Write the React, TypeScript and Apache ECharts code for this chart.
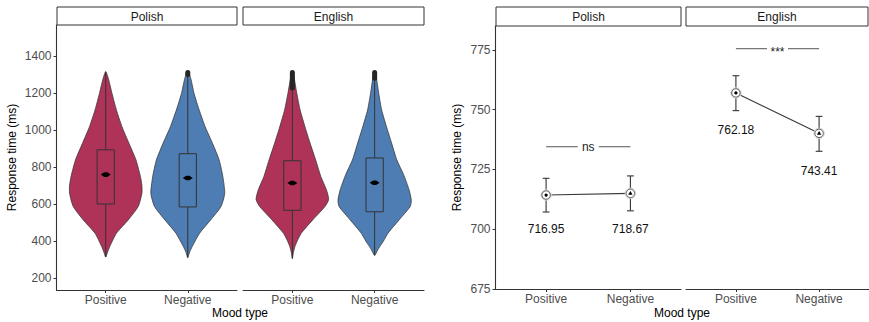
import React, { useEffect, useRef } from "react";
import * as echarts from "echarts";

const FONT = "'Liberation Sans', Arial, Helvetica, sans-serif";

const moods = ["Positive", "Negative"];
const languages = ["Polish", "English"];

// left panel ticks / ranges
const violinTicks = [200, 400, 600, 800, 1000, 1200, 1400];
const violinRange = [135, 1568];
// right panel ticks / ranges
const meanTicks = [675, 700, 725, 750, 775];
const meanRange = [675, 785];

// violin density profiles: [response time, relative half width]
const polishPositiveViolin = [[313, 0], [340, 0.05], [370, 0.11], [442, 0.29], [514, 0.61], [586, 0.88], [658, 0.98], [700, 0.98], [748, 0.94], [838, 0.82], [928, 0.63], [1018, 0.44], [1108, 0.29], [1198, 0.17], [1280, 0.07], [1316, 0]];
const polishNegativeViolin = [[310, 0], [340, 0.05], [370, 0.12], [442, 0.32], [514, 0.62], [586, 0.9], [658, 1.0], [748, 0.95], [838, 0.85], [928, 0.67], [1018, 0.47], [1108, 0.31], [1198, 0.17], [1280, 0.08], [1322, 0]];
const englishPositiveViolin = [[305, 0], [340, 0.03], [370, 0.07], [400, 0.13], [442, 0.24], [514, 0.55], [586, 0.88], [625, 0.98], [677, 0.92], [748, 0.77], [838, 0.63], [928, 0.48], [1018, 0.34], [1108, 0.21], [1198, 0.12], [1280, 0.05], [1322, 0]];
const englishNegativeViolin = [[322, 0], [350, 0.08], [370, 0.14], [400, 0.24], [442, 0.36], [514, 0.66], [586, 0.96], [620, 0.99], [677, 0.93], [760, 0.78], [838, 0.6], [928, 0.46], [1018, 0.32], [1108, 0.19], [1198, 0.11], [1280, 0.05], [1322, 0]];

const polishBoxQ1 = [600, 584];
const polishBoxQ3 = [893, 872];
const englishBoxQ1 = [566, 558];
const englishBoxQ3 = [834, 849];
const polishWhiskerMin = [313, 310];
const polishWhiskerMax = [1316, 1300];
const englishWhiskerMin = [305, 322];
const englishWhiskerMax = [1227, 1280];
const polishOutlierMax = [1316, 1322];
const englishOutlierMax = [1322, 1322];
const polishViolinMean = [759, 741];
const englishViolinMean = [714, 715];

// right panel: means with error bars
const polishMean = [714.3, 715.0];
const polishErrLow = [707.2, 707.7];
const polishErrHigh = [721.3, 722.3];
const englishMean = [757.0, 740.1];
const englishErrLow = [749.6, 732.6];
const englishErrHigh = [764.2, 747.2];
const polishLabels = ["716.95", "718.67"];
const englishLabels = ["762.18", "743.41"];
const polishLabelRT = [700, 700];
const englishLabelRT = [741.5, 724.5];
const polishSig = "ns";
const englishSig = "***";
const polishSigRT = 734.5;
const englishSigRT = 775.5;

const violinColors = ["#AF3259", "#4E7DB4"];

const violins = [
  [polishPositiveViolin, polishNegativeViolin],
  [englishPositiveViolin, englishNegativeViolin],
];
const boxQ1 = [polishBoxQ1, englishBoxQ1];
const boxQ3 = [polishBoxQ3, englishBoxQ3];
const whiskerMin = [polishWhiskerMin, englishWhiskerMin];
const whiskerMax = [polishWhiskerMax, englishWhiskerMax];
const outlierMax = [polishOutlierMax, englishOutlierMax];
const violinMean = [polishViolinMean, englishViolinMean];

const means = [polishMean, englishMean];
const errLow = [polishErrLow, englishErrLow];
const errHigh = [polishErrHigh, englishErrHigh];
const valueLabels = [polishLabels, englishLabels];
const labelRT = [polishLabelRT, englishLabelRT];
const sigText = [polishSig, englishSig];
const sigRT = [polishSigRT, englishSigRT];

const grids = [
  { left: 56.5, top: 25, width: 180.5, height: 265 },
  { left: 243, top: 25, width: 181, height: 265 },
  { left: 495.5, top: 26, width: 185.5, height: 263 },
  { left: 686, top: 26, width: 187, height: 263 },
];

const strips = [
  { x: 57, y: 7, w: 180, h: 18 },
  { x: 243, y: 7, w: 181, h: 18 },
  { x: 496, y: 7, w: 185, h: 19 },
  { x: 686, y: 7, w: 182, h: 19 },
];

function xAxisCfg(gridIndex: number) {
  return {
    type: "value",
    gridIndex,
    min: 0.4,
    max: 2.6,
    axisLine: { show: true, onZero: false, lineStyle: { color: "#333", width: 1.1 } },
    axisTick: { show: true, customValues: [1, 2], length: 3, lineStyle: { color: "#333" } },
    axisLabel: {
      show: true,
      customValues: [1, 2],
      formatter: (v: number) => moods[Math.round(v) - 1] ?? "",
      color: "#4d4d4d",
      fontSize: 12,
      fontFamily: FONT,
      margin: 4,
    },
    splitLine: { show: false },
  };
}

function yAxisCfg(gridIndex: number, show: boolean, range: number[], ticks: number[]) {
  return {
    type: "value",
    gridIndex,
    min: range[0],
    max: range[1],
    show,
    axisLine: { show: true, onZero: false, lineStyle: { color: "#333", width: 1.1 } },
    axisTick: { show: true, customValues: ticks, length: 3, lineStyle: { color: "#333" } },
    axisLabel: {
      show: true,
      customValues: ticks,
      formatter: (v: number) => String(v),
      color: "#4d4d4d",
      fontSize: 12,
      fontFamily: FONT,
      margin: 5,
    },
    splitLine: { show: false },
  };
}

function buildOption() {
  const series: any[] = [];

  // violins
  languages.forEach((_, li) => {
    series.push({
      type: "custom",
      xAxisIndex: li,
      yAxisIndex: li,
      silent: true,
      data: moods.map((_m, i) => [i + 1, i]),
      renderItem: (params: any, api: any) => {
        const i = params.dataIndex;
        const xv = i + 1;
        const prof = violins[li][i];
        const halfPx = (rt: number) => api.coord([xv + 0.45, rt])[0] - api.coord([xv, rt])[0];
        const right = prof.map(([rt, w]) => {
          const c = api.coord([xv, rt]);
          return [c[0] + w * halfPx(rt), c[1]];
        });
        const left = prof
          .slice(1, -1)
          .reverse()
          .map(([rt, w]) => {
            const c = api.coord([xv, rt]);
            return [c[0] - w * halfPx(rt), c[1]];
          });
        const cx = api.coord([xv, 1000])[0];
        const bw = (api.coord([xv + 0.105, 1000])[0] - cx) * 2;
        const yQ1 = api.coord([xv, boxQ1[li][i]])[1];
        const yQ3 = api.coord([xv, boxQ3[li][i]])[1];
        const yWMin = api.coord([xv, whiskerMin[li][i]])[1];
        const yWMax = api.coord([xv, whiskerMax[li][i]])[1];
        const yOMax = api.coord([xv, outlierMax[li][i]])[1];
        const yMean = api.coord([xv, violinMean[li][i]])[1];
        const children: any[] = [
          {
            type: "polygon",
            shape: { points: right.concat(left), smooth: 0.2 },
            style: { fill: violinColors[i], stroke: "#3a3a3a", lineWidth: 0.8 },
          },
          {
            type: "line",
            shape: { x1: cx, y1: yWMin, x2: cx, y2: yQ1 },
            style: { stroke: "#333", lineWidth: 1 },
          },
          {
            type: "line",
            shape: { x1: cx, y1: yQ3, x2: cx, y2: yWMax },
            style: { stroke: "#333", lineWidth: 1 },
          },
          {
            type: "rect",
            shape: { x: cx - bw / 2, y: yQ3, width: bw, height: yQ1 - yQ3 },
            style: { fill: "none", stroke: "#333", lineWidth: 1 },
          },
          {
            type: "polygon",
            shape: { points: [[cx - 5, yMean], [cx - 1.5, yMean - 2.3], [cx + 1.5, yMean - 2.3], [cx + 5, yMean], [cx + 1.5, yMean + 2.3], [cx - 1.5, yMean + 2.3]] },
            style: { fill: "#000" },
          },
        ];
        if (yWMax - yOMax > 1.5) {
          children.push({
            type: "line",
            shape: { x1: cx, y1: yWMax, x2: cx, y2: yOMax + 2 },
            style: { stroke: "#262626", lineWidth: 5, lineCap: "round" },
          });
        }
        return { type: "group", children };
      },
    });
  });

  // right panel
  languages.forEach((_, li) => {
    const ax = 2 + li;
    series.push({
      type: "line",
      xAxisIndex: ax,
      yAxisIndex: ax,
      silent: true,
      symbol: "none",
      data: means[li].map((m, i) => [i + 1, m]),
      lineStyle: { color: "#3a3a3a", width: 1.1 },
      z: 2,
    });
    series.push({
      type: "custom",
      xAxisIndex: ax,
      yAxisIndex: ax,
      silent: true,
      z: 3,
      data: means[li].map((m, i) => [i + 1, m, errLow[li][i], errHigh[li][i]]),
      renderItem: (params: any, api: any) => {
        const i = params.dataIndex;
        const xv = api.value(0);
        const p = api.coord([xv, api.value(1)]);
        const lo = api.coord([xv, api.value(2)])[1];
        const hi = api.coord([xv, api.value(3)])[1];
        const cap = 3.4;
        const inner =
          i === 0
            ? { type: "circle", shape: { cx: p[0], cy: p[1], r: 1.6 }, style: { fill: "#000" } }
            : {
                type: "polygon",
                shape: { points: [[p[0], p[1] - 2.4], [p[0] + 2.2, p[1] + 1.5], [p[0] - 2.2, p[1] + 1.5]] },
                style: { fill: "#000" },
              };
        return {
          type: "group",
          children: [
            { type: "line", shape: { x1: p[0], y1: lo, x2: p[0], y2: hi }, style: { stroke: "#333", lineWidth: 1.1 } },
            { type: "line", shape: { x1: p[0] - cap, y1: lo, x2: p[0] + cap, y2: lo }, style: { stroke: "#333", lineWidth: 1.1 } },
            { type: "line", shape: { x1: p[0] - cap, y1: hi, x2: p[0] + cap, y2: hi }, style: { stroke: "#333", lineWidth: 1.1 } },
            { type: "circle", shape: { cx: p[0], cy: p[1], r: 5.2 }, style: { fill: "#fff", stroke: "#cfcfcf", lineWidth: 1 } },
            { type: "circle", shape: { cx: p[0], cy: p[1], r: 4.2 }, style: { fill: "#fff", stroke: "#555", lineWidth: 1 } },
            inner,
          ],
        };
      },
    });
    series.push({
      type: "custom",
      xAxisIndex: ax,
      yAxisIndex: ax,
      silent: true,
      z: 3,
      data: labelRT[li].map((v, i) => [i + 1, v]),
      renderItem: (params: any, api: any) => {
        const i = params.dataIndex;
        const p = api.coord([api.value(0), api.value(1)]);
        return {
          type: "text",
          x: p[0],
          y: p[1],
          style: {
            text: valueLabels[li][i],
            fill: "#111",
            font: `12px ${FONT}`,
            align: "center",
            verticalAlign: "middle",
          },
        };
      },
    });
    series.push({
      type: "custom",
      xAxisIndex: ax,
      yAxisIndex: ax,
      silent: true,
      z: 3,
      data: [[1, 2, sigRT[li]]],
      renderItem: (_params: any, api: any) => {
        const a = api.coord([api.value(0), api.value(2)]);
        const b = api.coord([api.value(1), api.value(2)]);
        const mid = (a[0] + b[0]) / 2;
        const gap = 10.5;
        const isStar = sigText[li].indexOf("*") >= 0;
        return {
          type: "group",
          children: [
            { type: "line", shape: { x1: a[0], y1: a[1], x2: mid - gap, y2: a[1] }, style: { stroke: "#555", lineWidth: 1 } },
            { type: "line", shape: { x1: mid + gap, y1: a[1], x2: b[0], y2: a[1] }, style: { stroke: "#555", lineWidth: 1 } },
            {
              type: "text",
              x: mid,
              y: a[1] + (isStar ? 3 : 0),
              style: {
                text: sigText[li],
                fill: "#222",
                font: `12px ${FONT}`,
                align: "center",
                verticalAlign: "middle",
              },
            },
          ],
        };
      },
    });
  });

  const graphic: any[] = [];
  strips.forEach((s, k) => {
    graphic.push({
      type: "rect",
      shape: { x: s.x, y: s.y, width: s.w, height: s.h },
      style: { fill: "#fff", stroke: "#333", lineWidth: 1 },
      silent: true,
    });
    graphic.push({
      type: "text",
      x: s.x + s.w / 2,
      y: s.y + s.h / 2 + 0.5,
      style: {
        text: languages[k % 2],
        fill: "#1a1a1a",
        font: `12px ${FONT}`,
        align: "center",
        verticalAlign: "middle",
      },
      silent: true,
    });
  });
  const axisTitles = [
    { x: 12, y: 157.5, rot: Math.PI / 2, text: "Response time (ms)" },
    { x: 457, y: 157.5, rot: Math.PI / 2, text: "Response time (ms)" },
    { x: 240, y: 312.5, rot: 0, text: "Mood type" },
    { x: 682, y: 313, rot: 0, text: "Mood type" },
  ];
  axisTitles.forEach((t) => {
    graphic.push({
      type: "text",
      x: t.x,
      y: t.y,
      rotation: t.rot,
      style: {
        text: t.text,
        fill: "#000",
        font: `12px ${FONT}`,
        align: "center",
        verticalAlign: "middle",
      },
      silent: true,
    });
  });

  return {
    animation: false,
    backgroundColor: "#ffffff",
    textStyle: { fontFamily: FONT },
    grid: grids,
    xAxis: [xAxisCfg(0), xAxisCfg(1), xAxisCfg(2), xAxisCfg(3)],
    yAxis: [
      yAxisCfg(0, true, violinRange, violinTicks),
      yAxisCfg(1, false, violinRange, violinTicks),
      yAxisCfg(2, true, meanRange, meanTicks),
      yAxisCfg(3, false, meanRange, meanTicks),
    ],
    series,
    graphic,
  };
}

export default function App() {
  const ref = useRef<HTMLDivElement>(null);
  useEffect(() => {
    document.body.style.margin = "0";
    const chart = echarts.init(ref.current!, null, { renderer: "svg" });
    chart.setOption(buildOption() as any);
    return () => {
      chart.dispose();
    };
  }, []);
  return (
    <div
      ref={ref}
      style={{ position: "absolute", left: 0, top: 0, width: 869, height: 322 }}
    />
  );
}
